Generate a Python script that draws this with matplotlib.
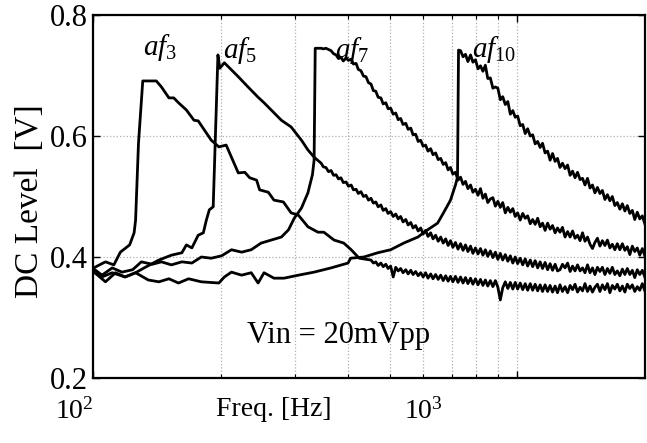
import matplotlib
matplotlib.use("Agg")
import matplotlib.pyplot as plt
from matplotlib.ticker import FixedLocator

plt.rcParams['font.family'] = 'Liberation Serif'
plt.rcParams['mathtext.fontset'] = 'custom'
plt.rcParams['mathtext.rm'] = 'Liberation Serif'
plt.rcParams['mathtext.it'] = 'Liberation Serif:italic'

# frequency sweep points of the upper band [Hz]
sweep = [345, 349, 354, 359, 364, 369, 374, 379, 384, 389,
         395, 400, 406, 411, 417, 422, 428, 434, 440, 446,
         452, 458, 464, 470, 477, 483, 490, 496, 503, 510,
         517, 524, 531, 538, 546, 553, 561, 568, 576, 584,
         592, 600, 608, 616, 625, 633, 642, 651, 660, 669,
         678, 687, 696, 705, 715, 725, 735, 745, 755, 765,
         776, 786, 797, 808, 819, 830, 841, 852, 864, 876,
         888, 900, 912, 924, 937, 950, 963, 976, 989, 1002,
         1016, 1030, 1044, 1058, 1073, 1087, 1102, 1117, 1132, 1147,
         1163, 1179, 1195, 1211, 1228, 1244, 1261, 1278, 1296, 1314,
         1332, 1350, 1368, 1387, 1406, 1425, 1444, 1464, 1484, 1504,
         1524, 1545, 1566, 1587, 1609, 1631, 1653, 1675, 1698, 1721,
         1745, 1769, 1793, 1817, 1842, 1867, 1892, 1918, 1944, 1971,
         1998]

# af3
af3_f_lo = [101, 107, 112, 116, 122, 125, 126, 128, 131, 141,
            145, 151, 155, 159, 166, 173, 177, 183, 190, 198,
            206, 220, 228, 234, 243, 247, 259, 267, 281, 293,
            305, 321, 339, 350, 370, 390, 406, 424]
af3_v_lo = [.383, .392, .387, .408, .420, .440, .461, .588, .691, .691,
            .681, .663, .663, .655, .643, .626, .625, .610, .593, .582,
            .585, .539, .540, .531, .527, .511, .507, .494, .491, .473,
            .469, .450, .441, .441, .428, .423, .412, .398]
af3_v_hi = [.395, .390, .392, .386, .390, .384, .388, .381, .385, .367,
            .383, .377, .381, .374, .379, .372, .378, .371, .376, .369,
            .374, .367, .374, .365, .372, .364, .371, .363, .370, .361,
            .369, .360, .368, .359, .368, .358, .367, .357, .366, .356,
            .365, .355, .364, .354, .363, .353, .362, .352, .361, .351,
            .361, .350, .329, .349, .359, .348, .358, .347, .358, .347,
            .357, .346, .356, .345, .356, .345, .355, .344, .354, .343,
            .354, .343, .353, .342, .352, .341,
            .354, .343, .351, .341, .353, .346, .355, .342, .350, .344,
            .356, .343, .352, .342, .350, .355, .343, .354, .346, .356,
            .341, .353, .347, .355, .344, .352, .342, .355, .348, .354,
            .343, .351, .345, .356, .344]

# af5
af5_f_lo = [101, 107, 113, 119, 126, 132, 143, 153, 162, 166,
            171, 177, 182, 185, 188, 192, 197, 199, 204, 220,
            232, 245, 253, 263, 278, 293, 310, 321, 332]
af5_v_lo = [.374, .359, .374, .367, .374, .382, .395, .403, .407, .420,
            .415, .436, .440, .461, .478, .483, .734, .712, .721, .698,
            .681, .664, .655, .643, .626, .615, .593, .577, .565]
af5_v_hi = [.555, .549, .548, .541, .543, .535, .536, .529, .531, .523,
            .524, .517, .519, .511, .512, .505, .508, .500, .502, .494,
            .497, .489, .491, .483, .486, .477, .480, .472, .475, .467,
            .471, .463, .467, .458, .462, .453, .457, .448, .452, .443,
            .448, .438, .444, .434, .440, .430, .436, .426, .433, .423,
            .430, .419, .427, .416, .424, .413, .422, .411, .420, .409,
            .418, .406, .415, .405, .414, .403, .412, .401, .410, .399,
            .408, .396, .406, .395, .404, .393, .402, .390, .400, .389,
            .398, .387, .397, .385, .395, .384, .394, .382, .392, .381,
            .391, .379, .389, .378, .388, .377,
            .379, .388, .382, .390, .376, .385, .377, .387, .377, .382,
            .374, .387, .374, .382, .371, .383, .376, .383, .371, .381,
            .373, .383, .371, .377, .369, .380, .371, .381, .371, .378,
            .366, .379, .371, .378, .367]

# af7
af7_f_lo = [101, 105, 111, 117, 124, 130, 138, 145, 153, 162,
            171, 180, 190, 201, 212, 224, 236, 249, 263, 278,
            289, 298, 310, 321, 329, 332, 334]
af7_v_lo = [.379, .370, .382, .375, .379, .392, .388, .392, .387, .392,
            .390, .400, .398, .402, .412, .408, .412, .423, .428, .433,
            .445, .464, .481, .506, .536, .560, .745]
af7_v_hi = [.745, .744, .745, .743, .741, .736, .734, .728, .730, .724,
            .729, .725, .727, .719, .720, .710, .708, .699, .698, .688,
            .686, .675, .674, .664, .663, .653, .655, .645, .646, .636,
            .638, .627, .629, .619, .621, .611, .613, .602, .603, .591,
            .593, .583, .585, .575, .579, .569, .572, .561, .563, .553,
            .556, .544, .548, .537, .540, .527, .532, .520, .525, .513,
            .519, .507, .512, .502,
            .513, .497, .504, .490, .496, .498, .484, .492, .482, .490,
            .473, .482, .474, .480, .467, .473, .461, .472, .464, .468,
            .455, .462, .454, .464, .450, .456, .444, .456, .446, .452,
            .440, .448, .441, .449, .433, .442, .433, .443, .431, .436,
            .427, .440, .426, .433, .421, .414, .424, .431, .418, .427,
            .419, .428, .415, .421, .412, .422, .412, .422, .411, .417,
            .404, .418, .409, .415, .403, .414, .402]

# af10
af10_f_lo = [101, 105, 111, 119, 126, 135, 143, 151, 159, 168,
             180, 198, 204, 212, 224, 236, 245, 253, 267, 282,
             305, 332, 364, 399, 405, 435, 469, 503, 540, 583,
             615, 649, 670, 696, 715, 723, 727]
af10_v_lo = [.374, .367, .374, .367, .374, .362, .359, .364, .357, .364,
             .359, .357, .367, .375, .370, .374, .357, .374, .365, .365,
             .370, .375, .382, .390, .398, .400, .407, .412, .423, .433,
             .445, .456, .473, .494, .519, .532, .742]
af10_v_hi = [.741, .731, .735, .723, .734, .722, .726, .711, .716, .707,
             .717, .695, .696, .679, .681, .679, .660, .665, .652, .657,
             .636, .642, .631, .633, .617, .619, .604, .612, .600, .602,
             .587, .591, .581, .588, .572, .575, .560, .571, .558, .563,
             .548, .555, .546, .552, .535, .542, .531, .540, .528, .530,
             .519, .530, .514, .519, .506, .515, .505, .510, .495, .503,
             .493, .500, .485, .490, .479, .488, .476, .485, .472, .477,
             .462, .474, .463, .468, .455]

assert len(sweep) == 131
assert len(af3_f_lo) == len(af3_v_lo) and len(af3_v_hi) == 111, len(af3_v_hi)
assert len(af5_f_lo) == len(af5_v_lo) and len(af5_v_hi) == 131, len(af5_v_hi)
assert len(af7_f_lo) == len(af7_v_lo) and len(af7_v_hi) == 131, len(af7_v_hi)
assert len(af10_f_lo) == len(af10_v_lo) and len(af10_v_hi) == 75, len(af10_v_hi)

curves = [
    (af3_f_lo + sweep[20:], af3_v_lo + af3_v_hi),
    (af5_f_lo + sweep, af5_v_lo + af5_v_hi),
    (af7_f_lo + sweep, af7_v_lo + af7_v_hi),
    (af10_f_lo + sweep[56:], af10_v_lo + af10_v_hi),
]

W, H = 647, 443
fig = plt.figure(figsize=(W / 100, H / 100), dpi=100)
ax = fig.add_axes([93 / W, 1 - 378 / H, 552 / W, 363 / H])

for f, v in curves:
    ax.plot(f, v, color='black', lw=2.0)

ax.set_xscale('log')
ax.set_xlim(100, 2000)
ax.set_ylim(0.2, 0.8)
ax.set_yticks([0.2, 0.4, 0.6, 0.8])
ax.set_yticklabels(['0.2', '0.4', '0.6', '0.8'], fontsize=22)
ax.xaxis.set_major_locator(FixedLocator([100, 1000]))
ax.xaxis.set_minor_locator(FixedLocator([200, 300, 400, 500, 600, 700, 800, 900]))
ax.set_xticklabels([])
ax.xaxis.set_minor_formatter(plt.NullFormatter())

ax.grid(True, which='both', axis='x', ls=':', color='#b0b0b0', lw=0.9)
ax.grid(True, which='major', axis='y', ls=':', color='#b0b0b0', lw=0.9)
ax.tick_params(direction='in', which='major', length=5, width=1, top=True, right=True, pad=4)
ax.tick_params(direction='in', which='minor', length=3, width=0.8, top=True)
for s in ax.spines.values():
    s.set_linewidth(1.6)

# x tick labels and axis labels as they sit in the picture
fig.text(74 / W, 1 - 419 / H, r'$10^{2}$', fontsize=20, ha='center', va='baseline')
fig.text(423 / W, 1 - 419 / H, r'$10^{3}$', fontsize=20, ha='center', va='baseline')
fig.text(274 / W, 1 - 416 / H, 'Freq. [Hz]', fontsize=20, ha='center', va='baseline')
fig.text(30 / W, 1 - 201 / H, 'DC Level  [V]', fontsize=24, rotation=90,
         ha='center', va='center')

ax.text(0.279, 0.096, 'Vin = 20mVpp', fontsize=22, transform=ax.transAxes,
        ha='left', va='baseline')

labels = ['3', '5', '7', '10']
label_pos = [(0.0906, 0.890), (0.2355, 0.8815), (0.4384, 0.8815), (0.6866, 0.884)]
for lab, (lx, ly) in zip(labels, label_pos):
    ax.text(lx, ly, r'$af_{' + lab + '}$', fontsize=21, transform=ax.transAxes,
            ha='left', va='baseline')

fig.savefig('out.png', dpi=100)
